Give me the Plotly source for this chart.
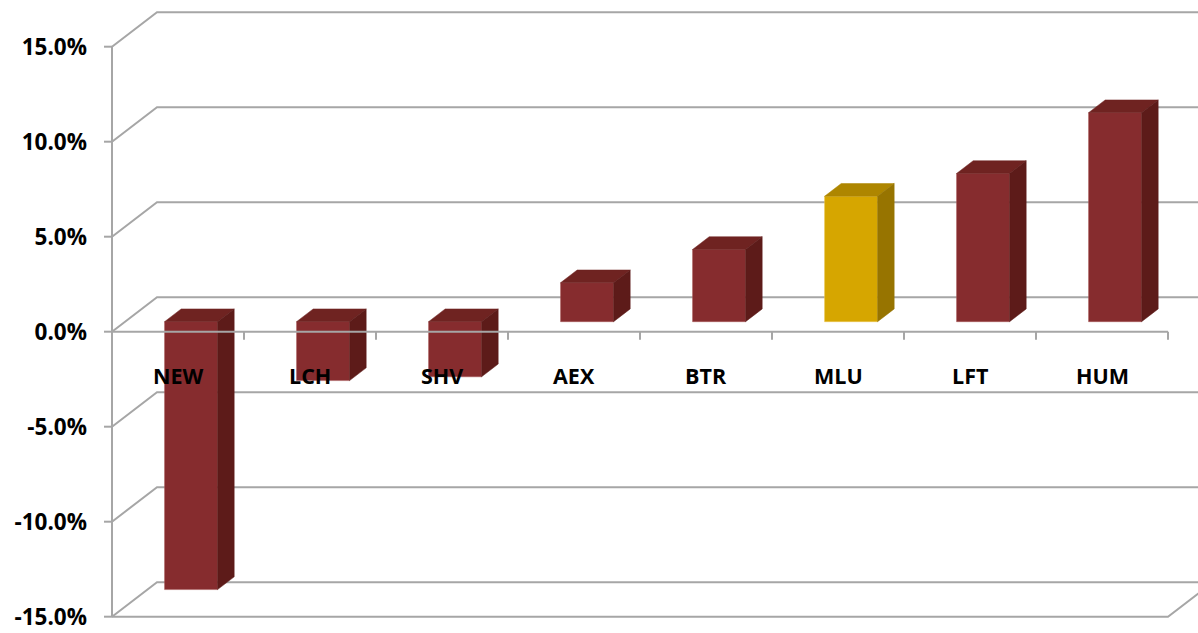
import plotly.graph_objects as go

# ---- data ----
categories = ["NEW", "LCH", "SHV", "AEX", "BTR", "MLU", "LFT", "HUM"]
values = [-0.141, -0.031, -0.029, 0.0205, 0.038, 0.066, 0.078, 0.110]
highlight = "MLU"
tick_values = [-0.15, -0.10, -0.05, 0.0, 0.05, 0.10, 0.15]
tick_labels = ["-15.0%", "-10.0%", "-5.0%", "0.0%", "5.0%", "10.0%", "15.0%"]

# ---- styling / projection ----
W, H = 1198, 633
CAT_PX = 132.0          # px per category
VAL_PX = 1900.0         # px per unit value
ZERO_PX = 331.7         # pixel row of value 0 on the front plane
LEFT_PX = 112.0         # pixel column of the front-left corner
MARGIN_L = 100
DX = 45.0 / CAT_PX      # full depth offset (x)
DY = 34.5 / VAL_PX      # full depth offset (y)
F1, F2 = 0.29, 0.66     # bar front / back depth fractions
HW = 26.5 / CAT_PX      # bar half width
GRID = "#A6A6A6"
YFONT = dict(family="Open Sans", size=22.5, color="#000000", weight="bold")
XFONT = dict(family="Open Sans", size=21.5, color="#000000", weight="bold")

colors = {
    "base": ("#862C2E", "#6F2321", "#5D1B19"),
    "hl": ("#D6A600", "#AE8600", "#977400"),
}

x0 = -0.5 - (LEFT_PX - MARGIN_L) / CAT_PX
x1 = (W - LEFT_PX) / CAT_PX - 0.5
y0 = -(H - ZERO_PX) / VAL_PX
y1 = ZERO_PX / VAL_PX
n = len(categories)
xL = -0.5
xR = n - 0.5

fig = go.Figure()

def line(xs, ys):
    fig.add_trace(go.Scatter(x=xs, y=ys, mode="lines", line=dict(color=GRID, width=2),
                             hoverinfo="skip", showlegend=False))

# back gridlines with diagonal to front
for t in tick_values:
    line([xL, xL + DX, x1 + 1], [t, t + DY, t + DY])
# floor front edge
fb = tick_values[0]
line([xL, xR, xR + DX], [fb, fb, fb + DY])
# vertical axis
line([xL, xL], [tick_values[0], tick_values[-1]])
# y ticks
tk = 8.0 / CAT_PX
for t in tick_values:
    line([xL - tk, xL], [t, t])

# bars
for i, (c, v) in enumerate(zip(categories, values)):
    front, top, side = colors["hl"] if c == highlight else colors["base"]
    hi, lo = max(v, 0), min(v, 0)
    xa = i - HW + F1 * DX
    xb = i + HW + F1 * DX
    d = (F2 - F1)
    fig.add_trace(go.Scatter(
        x=[xa, xb, xb, xa, xa],
        y=[lo + F1 * DY, lo + F1 * DY, hi + F1 * DY, hi + F1 * DY, lo + F1 * DY],
        fill="toself", fillcolor=front, mode="lines",
        line=dict(color="rgba(170,90,90,0.5)" if c != highlight else "rgba(240,200,80,0.5)", width=1),
        hoverinfo="skip", showlegend=False))
    fig.add_trace(go.Scatter(
        x=[xa, xb, xb + d * DX, xa + d * DX, xa],
        y=[hi + F1 * DY, hi + F1 * DY, hi + F2 * DY, hi + F2 * DY, hi + F1 * DY],
        fill="toself", fillcolor=top, mode="lines", line=dict(color=top, width=0.5),
        hoverinfo="skip", showlegend=False))
    fig.add_trace(go.Scatter(
        x=[xb, xb + d * DX, xb + d * DX, xb, xb],
        y=[lo + F1 * DY, lo + F2 * DY, hi + F2 * DY, hi + F1 * DY, lo + F1 * DY],
        fill="toself", fillcolor=side, mode="lines", line=dict(color=side, width=0.5),
        hoverinfo="skip", showlegend=False))

# front category axis at zero with tick marks (in front of bars)
line([xL, xR], [0, 0])
ctk = 8.0 / VAL_PX
for i in range(n):
    line([i + 0.5, i + 0.5], [0, -ctk])

# category labels
label_y = -(375 - ZERO_PX) / VAL_PX
for i, c in enumerate(categories):
    fig.add_annotation(x=i, y=label_y, text=c, showarrow=False, font=XFONT,
                       xanchor="center", yanchor="middle")

fig.update_layout(
    width=W, height=H,
    margin=dict(l=MARGIN_L, r=0, t=0, b=0, autoexpand=False),
    paper_bgcolor="white", plot_bgcolor="white",
    xaxis=dict(range=[x0, x1], visible=False, fixedrange=True),
    yaxis=dict(range=[y0, y1], tickvals=tick_values, ticktext=tick_labels,
               showgrid=False, zeroline=False, showline=False, ticks="",
               tickfont=YFONT, ticklabelstandoff=12, automargin=False, fixedrange=True),
    showlegend=False,
)

fig.write_html("out.html", config={"displayModeBar": False},
               post_script="document.body.style.margin='0';document.body.style.overflow='hidden';")
